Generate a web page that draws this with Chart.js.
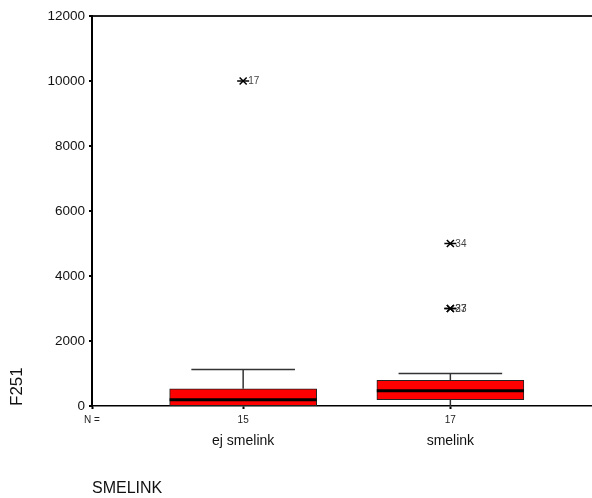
<!DOCTYPE html>
<html>
<head>
<meta charset="utf-8">
<script src="https://cdn.jsdelivr.net/npm/chart.js@4/dist/chart.umd.min.js"></script>
<style>
  html, body { margin: 0; padding: 0; background: #fff; overflow: hidden; }
  #wrap { width: 600px; height: 498px; }
</style>
</head>
<body>
<div id="wrap"><canvas id="chart"></canvas></div>
<script>
// box plot statistics per group
const categories = ["ej smelink", "smelink"];
const groupPos = [1, 2];
const nCounts = [15, 17];
const whiskerLow = [0, 0];
const q1 = [10, 195];
const median = [190, 470];
const q3 = [530, 790];
const whiskerHigh = [1120, 1000];

// extreme values (case numbers as labels)
const outlierGroup = [1, 2, 2, 2];
const outlierValue = [10000, 5000, 3000, 3000];
const outlierIds = ["17", "34", "27", "33"];

const yTicks = [0, 2000, 4000, 6000, 8000, 10000, 12000];

const FONT = '"Liberation Sans", Arial, sans-serif';
const X_MIN = 0.2705, X_MAX = 2.686;
const BOX_HALF = 0.355, CAP_HALF = 0.25;

// turn [[x1,y1],[x2,y2]] pairs into one line dataset with gaps
function segments(list) {
    const out = [];
    list.forEach(([a, b]) => {
        out.push({ x: a[0], y: a[1] }, { x: b[0], y: b[1] }, { x: b[0], y: null });
    });
    return out;
}

const medianSegs = segments(groupPos.map((c, i) => [[c - BOX_HALF, median[i]], [c + BOX_HALF, median[i]]]));
const whiskerSegs = segments(groupPos.flatMap((c, i) => [
    [[c, q3[i]], [c, whiskerHigh[i]]],
    [[c - CAP_HALF, whiskerHigh[i]], [c + CAP_HALF, whiskerHigh[i]]],
    [[c, whiskerLow[i]], [c, q1[i]]],
]));
const outlierPoints = outlierValue.map((v, i) => ({ x: outlierGroup[i], y: v }));

const outlierLabels = {
    id: "outlierLabels",
    afterDatasetsDraw(chart) {
        const meta = chart.getDatasetMeta(0);
        const ctx = chart.ctx;
        ctx.save();
        ctx.font = "10px " + FONT;
        ctx.fillStyle = "#444";
        ctx.textBaseline = "middle";
        meta.data.forEach((pt, i) => ctx.fillText(outlierIds[i], pt.x + 5, pt.y + 0.5));
        ctx.restore();
    },
};

new Chart(document.getElementById("chart"), {
    type: "bar",
    data: {
        datasets: [
            {
                type: "line", data: outlierPoints, showLine: false, order: 0,
                pointStyle: "crossRot", pointRadius: 5, borderColor: "#000", borderWidth: 1.5,
            },
            {
                type: "line", data: outlierPoints, showLine: false, order: 0,
                pointStyle: "line", pointRadius: 6, borderColor: "#000", borderWidth: 1.5,
            },
            {
                type: "line", data: medianSegs, order: 1, spanGaps: false,
                borderColor: "#000", borderWidth: 3, pointRadius: 0,
            },
            {
                type: "line", data: whiskerSegs, order: 2, spanGaps: false,
                borderColor: "#333", borderWidth: 1.5, pointRadius: 0,
            },
            {
                type: "bar",
                data: groupPos.map((c, i) => ({ x: c, y: [q1[i], q3[i]] })),
                order: 3,
                backgroundColor: "#ff0000", borderColor: "#222", borderWidth: 1,
                borderSkipped: false, barThickness: 147,
            },
        ],
    },
    options: {
        responsive: true,
        maintainAspectRatio: false,
        animation: false,
        events: [],
        layout: { padding: { top: 16, right: 0, bottom: 0, left: 0 } },
        plugins: { legend: { display: false }, tooltip: { enabled: false } },
        scales: {
            x: {
                type: "linear", min: X_MIN, max: X_MAX, offset: false,
                afterBuildTicks: (scale) => { scale.ticks = [X_MIN, ...groupPos].map(v => ({ value: v })); },
                afterFit: (scale) => { scale.height = 22; },
                border: { color: "#000", width: 1.5 },
                grid: { display: true, drawOnChartArea: false, offset: false, tickLength: 3, tickWidth: 2, tickColor: "#000" },
                ticks: {
                    autoSkip: false, maxRotation: 0, padding: 5, color: "#222",
                    font: { family: FONT, size: 10 },
                    callback: (v, i) => (i === 0 ? "N =" : String(nCounts[i - 1])),
                },
            },
            x2: {
                type: "linear", position: "bottom", min: X_MIN, max: X_MAX, offset: false,
                afterBuildTicks: (scale) => { scale.ticks = groupPos.map(v => ({ value: v })); },
                afterFit: (scale) => { scale.height = 70; },
                border: { display: false },
                grid: { display: false, drawTicks: false },
                ticks: {
                    autoSkip: false, maxRotation: 0, padding: 5, color: "#111",
                    font: { family: FONT, size: 14 },
                    callback: (v, i) => categories[i],
                },
                title: {
                    display: true, text: "SMELINK", align: "start", color: "#111",
                    font: { family: FONT, size: 16 }, padding: { top: 0, bottom: 0 },
                },
            },
            y: {
                type: "linear", min: 0, max: 12000,
                afterBuildTicks: (scale) => { scale.ticks = yTicks.map(v => ({ value: v })); },
                afterFit: (scale) => { scale.width = 92; },
                border: { color: "#000", width: 2 },
                grid: {
                    drawOnChartArea: true,
                    color: (ctx) => (ctx.tick && ctx.tick.value === 12000 ? "#222" : "rgba(0,0,0,0)"),
                    lineWidth: 2, tickLength: 3, tickWidth: 2, tickColor: "#000",
                },
                ticks: {
                    padding: 4, color: "#111",
                    font: { family: FONT, size: 13.5 },
                    callback: (v) => String(v),
                },
                title: {
                    display: true, text: "F251", align: "start", color: "#111",
                    font: { family: FONT, size: 17 }, padding: { top: 7, bottom: 0 },
                },
            },
        },
    },
    plugins: [outlierLabels],
});
</script>
</body>
</html>
